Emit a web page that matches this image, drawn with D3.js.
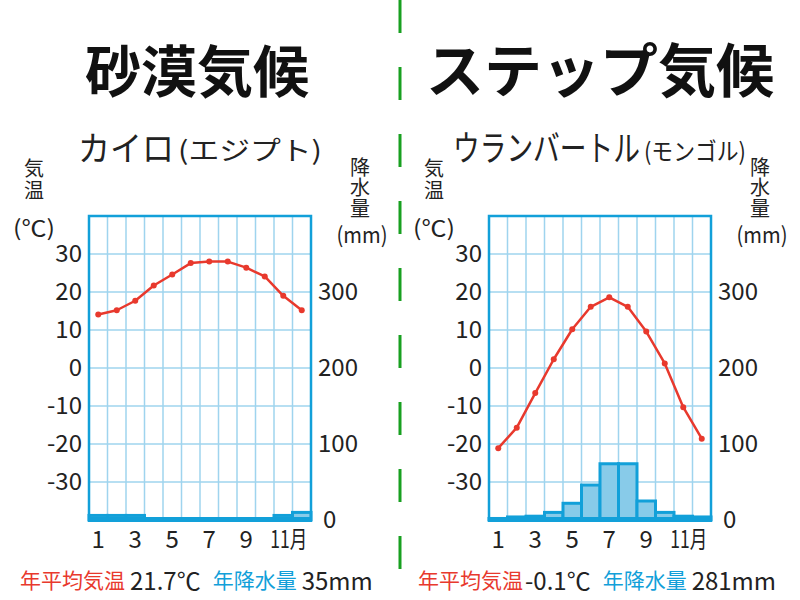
<!DOCTYPE html>
<html><head><meta charset="utf-8">
<script src="https://cdn.jsdelivr.net/npm/d3@7/dist/d3.min.js"></script>
<style>
body{margin:0;background:#fff}
svg{display:block}
text{font-family:"Noto Sans CJK JP","Noto Sans",sans-serif}
</style></head>
<body><svg id="c" width="800" height="600"></svg>
<script>
const months = [1,2,3,4,5,6,7,8,9,10,11,12];
const monthTicks = [1,3,5,7,9,11];
const tempTicks = [-30,-20,-10,0,10,20,30];
const precTicks = [0,100,200,300];
const cairoTemp = [14.1,15.2,17.7,21.7,24.6,27.6,28.0,28.0,26.4,24.1,19.0,15.2];
const cairoPrec = [6,6,6,1,0,0,0,0,0,0,6,10];
const ubTemp = [-21.1,-15.7,-6.6,2.3,10.2,16.1,18.6,16.1,9.6,1.2,-10.3,-18.6];
const ubPrec = [2,4,5,10,22,46,74,74,25,10,5,4];

const RED="#e8392d", BLUE="#12a0d9", GRID="#9fd4ee", FILL="#88cbe9", GREEN="#18a020";
const svg = d3.select("#c");

// divider
svg.append("line").attr("x1",400).attr("x2",400).attr("y1",0).attr("y2",600)
  .attr("stroke",GREEN).attr("stroke-width",3).attr("stroke-dasharray","33,34");

function fitText(g, str, x, y, size, width){
  const t = g.append("text").attr("font-size",size).attr("fill","#222").text(str);
  const w = t.node().getComputedTextLength() || width;
  t.attr("transform",`translate(${x},${y}) scale(${width/w},1)`);
  return t;
}

function drawChart(ox, temps, precs, opts){
  const g = svg.append("g").attr("transform",`translate(${ox},0)`);
  const x = d3.scaleBand().domain(months).range([89,311]).padding(0);
  const yT = d3.scaleLinear().domain([-40,40]).range([520,216]);
  const yP = d3.scaleLinear().domain([0,400]).range([520,216]);
  const bw = x.bandwidth();

  // title
  g.append("text").attr("x",opts.titleX).attr("y",67).attr("text-anchor","middle")
    .attr("dominant-baseline","central").attr("font-size",opts.titleSize).attr("font-weight",700)
    .attr("fill","#111").text(opts.title);
  fitText(g, opts.city, opts.cityX, 161, opts.citySize, opts.cityLen);
  fitText(g, opts.country, opts.cityX+opts.cityLen+4, 160, opts.ctrySize, opts.ctryLen);

  // axis titles (vertical)
  g.append("text").attr("x",34).attr("y",158).attr("writing-mode","vertical-rl")
    .attr("font-size",20).attr("letter-spacing",2).attr("fill","#222").text("気温");
  g.append("text").attr("x",34).attr("y",226).attr("text-anchor","middle").attr("dominant-baseline","central")
     .attr("font-size",22).attr("fill","#222").attr("textLength",42).attr("lengthAdjust","spacingAndGlyphs").text("(℃)");
  g.append("text").attr("x",360).attr("y",157).attr("writing-mode","vertical-rl")
    .attr("font-size",20).attr("letter-spacing",0.5).attr("fill","#222").text("降水量");
  g.append("text").attr("x",362).attr("y",233).attr("text-anchor","middle").attr("dominant-baseline","central")
     .attr("font-size",22).attr("fill","#222").attr("textLength",51).attr("lengthAdjust","spacingAndGlyphs").text("(mm)");

  // grid
  g.append("g").selectAll("line.h").data(tempTicks).join("line")
    .attr("x1",89).attr("x2",311).attr("y1",d=>yT(d)).attr("y2",d=>yT(d))
    .attr("stroke",GRID).attr("stroke-width",1.5);
  g.append("g").selectAll("line.v").data(months.slice(1)).join("line")
    .attr("x1",d=>x(d)).attr("x2",d=>x(d)).attr("y1",216).attr("y2",520)
    .attr("stroke",GRID).attr("stroke-width",1.5);

  // bars
  g.append("g").selectAll("rect").data(months.filter((m,i)=>precs[i]>0)).join("rect")
    .attr("x",d=>x(d)).attr("width",bw)
    .attr("y",d=>yP(precs[d-1])).attr("height",d=>yP(0)-yP(precs[d-1]))
    .attr("fill",FILL).attr("stroke",BLUE).attr("stroke-width",3);

  // frame
  g.append("rect").attr("x",89).attr("y",216).attr("width",222).attr("height",304)
    .attr("fill","none").attr("stroke",BLUE).attr("stroke-width",2.5);
  g.append("line").attr("x1",88).attr("x2",312).attr("y1",519.5).attr("y2",519.5)
    .attr("stroke",BLUE).attr("stroke-width",5);

  // axes
  const aL = g.append("g").attr("transform","translate(82,0)")
    .call(d3.axisLeft(yT).tickValues(tempTicks).tickSize(0).tickPadding(0).tickFormat(d=>String(d)));
  const aR = g.append("g").attr("transform","translate(318,0)")
    .call(d3.axisRight(yP).tickValues(precTicks).tickSize(0).tickPadding(0));
  const aB = g.append("g").attr("transform","translate(0,530)")
    .call(d3.axisBottom(x).tickValues(monthTicks).tickSize(0).tickPadding(0).tickFormat(d=>d===11?"11月":d));
  [aL,aR,aB].forEach(a=>{a.select(".domain").remove();
    a.selectAll("text").attr("font-size",24).attr("fill","#222")
     .attr("font-family",'"Noto Sans CJK JP","Noto Sans",sans-serif');});
  aR.selectAll("text").filter(d=>d===0).attr("x",5);
  aB.selectAll("text").attr("dy","0.75em").filter(d=>d===11).attr("text-anchor","start").attr("x",-13)
    .attr("textLength",37).attr("lengthAdjust","spacingAndGlyphs");

  // line
  const line = d3.line().x((d,i)=>x(months[i])+bw/2).y(d=>yT(d));
  g.append("path").datum(temps).attr("d",line).attr("fill","none")
    .attr("stroke",RED).attr("stroke-width",2.5).attr("stroke-linejoin","round");
  g.append("g").selectAll("circle").data(temps).join("circle")
    .attr("cx",(d,i)=>x(months[i])+bw/2).attr("cy",d=>yT(d)).attr("r",3).attr("fill",RED);

  // summary
  const s = g.append("text").attr("y",579).attr("dominant-baseline","central").attr("font-size",21);
  s.append("tspan").attr("x",opts.sumX).attr("fill",RED).text("年平均気温");
  s.append("tspan").attr("dx",opts.gap1).attr("fill","#222").attr("font-size",24).text(opts.avgT);
  s.append("tspan").attr("dx",12).attr("fill",BLUE).text("年降水量");
  s.append("tspan").attr("dx",5).attr("fill","#222").attr("font-size",24).text(opts.totP);
}

drawChart(0, cairoTemp, cairoPrec, {title:"砂漠気候", titleX:197, titleSize:56, city:"カイロ", country:"(エジプト)",
  cityX:78, cityLen:96, citySize:34, ctryLen:144, ctrySize:26, sumX:20, gap1:5, avgT:"21.7℃", totP:"35mm"});
drawChart(400, ubTemp, ubPrec, {title:"ステップ気候", titleX:200, titleSize:58, city:"ウランバートル", country:"(モンゴル)",
  cityX:53, cityLen:187, citySize:35, ctryLen:102, ctrySize:24, sumX:18, gap1:2, avgT:"-0.1℃", totP:"281mm"});
</script></body></html>
